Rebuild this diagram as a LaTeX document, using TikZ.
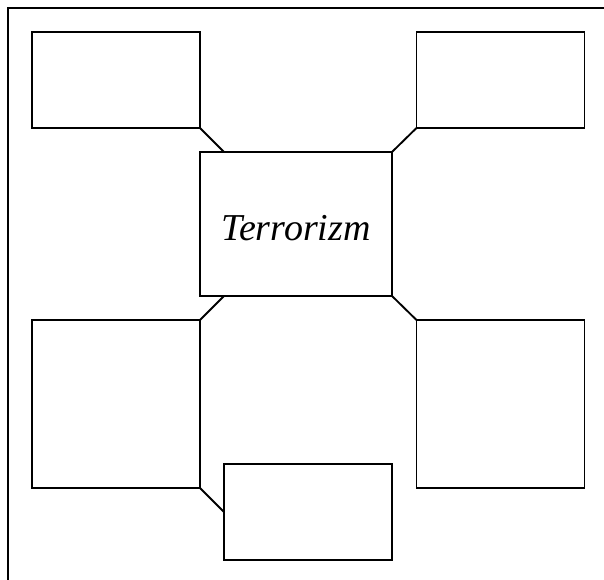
\documentclass[tikz,border=0pt]{standalone}
\usepackage{fontspec}
\setmainfont{Liberation Serif}
\begin{document}
\begin{tikzpicture}[x=0.75pt,y=-0.75pt,
  box/.style={draw,line width=1.4pt,rectangle,inner sep=0pt,outer sep=0pt},
  conn/.style={line width=1.4pt}]
\useasboundingbox (0,0) rectangle (604,580);
\draw[line width=1.4pt] (8,582) -- (8,8) -- (606,8);
\node[box,minimum width=126pt,minimum height=72pt] (tl) at (116,80) {};
\node[box,minimum width=126pt,minimum height=72pt] (tr) at (500.5,80) {};
\node[box,minimum width=144pt,minimum height=108pt] (c) at (296,224) {};
\node[font=\fontsize{28.5}{32}\selectfont\itshape,inner sep=0pt] (ct) at ([yshift=-3pt]c.center) {Terrorizm};
\node[box,minimum width=126pt,minimum height=126pt] (ml) at (116,404) {};
\node[box,minimum width=126pt,minimum height=126pt] (mr) at (500.5,404) {};
\node[box,minimum width=126pt,minimum height=72pt] (b) at (308,512) {};
\draw[conn] (tl.south east) -- ([xshift=18pt]c.north west);
\draw[conn] (tr.south west) -- (c.north east);
\draw[conn] ([xshift=18pt]c.south west) -- (ml.north east);
\draw[conn] (c.south east) -- (mr.north west);
\draw[conn] (ml.south east) -- (b.west);
\end{tikzpicture}
\end{document}
